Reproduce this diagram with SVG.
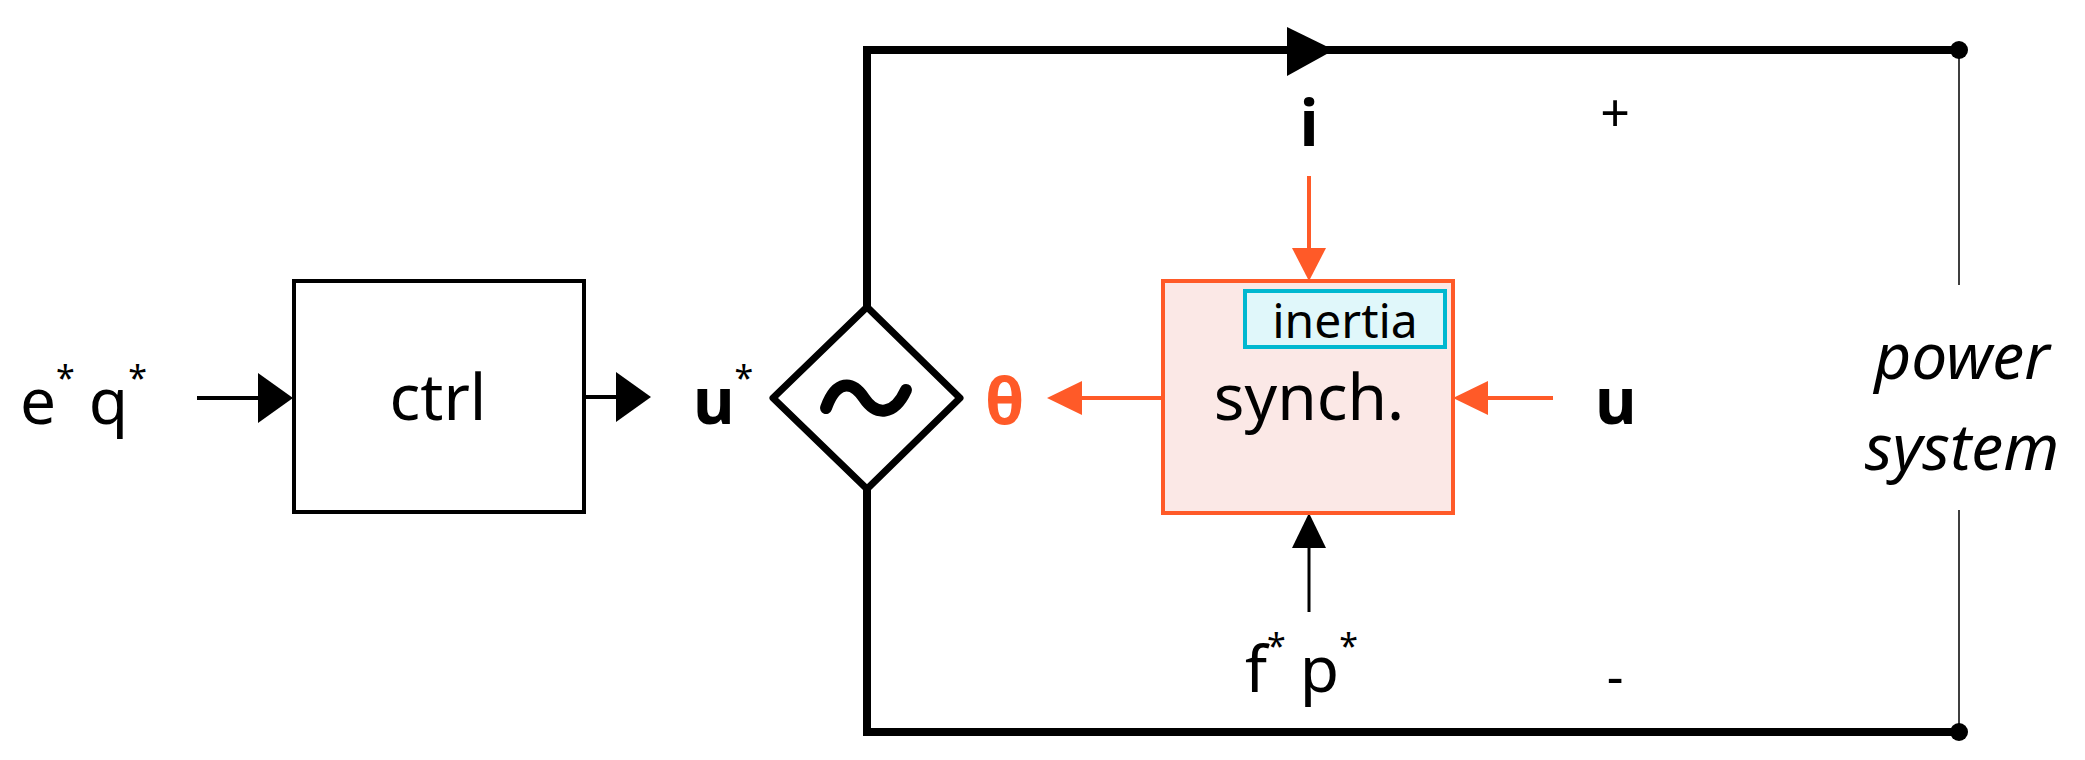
<svg xmlns="http://www.w3.org/2000/svg" width="2085" height="760" viewBox="0 0 2085 760">
<defs>
<marker id="ab" viewBox="0 0 10 10" refX="10" refY="5" markerWidth="10" markerHeight="10" markerUnits="userSpaceOnUse" orient="auto"><path d="M0,0L10,5L0,10z" fill="#000"/></marker>
<style>
text{font-family:"Noto Sans","DejaVu Sans",sans-serif;font-size:64px;fill:#000}
.b{font-weight:bold}
.o{fill:#ff5a28}
.i{font-style:italic}
.sup{font-size:34px}
</style>
</defs>
<g id="connectors" fill="none">
<path d="M867,307V50H1959" stroke="#000" stroke-width="8"/>
<path d="M867,489V732H1959" stroke="#000" stroke-width="8"/>
<path d="M1287,27L1334,50L1287,76z" fill="#000"/>
<circle cx="1959" cy="50" r="9" fill="#000"/>
<circle cx="1959" cy="732" r="9" fill="#000"/>
<path d="M1959,50V285M1959,510V732" stroke="#000" stroke-width="1.5"/>
<path d="M197,398H260" stroke="#000" stroke-width="4"/>
<path d="M258,373L293,398L258,423z" fill="#000"/>
<path d="M585,397H616" stroke="#000" stroke-width="4"/>
<path d="M616,372L651,397L616,422z" fill="#000"/>
<path d="M1309,176V250" stroke="#ff5a28" stroke-width="4"/>
<path d="M1292,248L1309,281L1326,248z" fill="#ff5a28"/>
<path d="M1163,398H1080" stroke="#ff5a28" stroke-width="4"/>
<path d="M1082,381L1047,398L1082,415z" fill="#ff5a28"/>
<path d="M1553,398H1485" stroke="#ff5a28" stroke-width="4"/>
<path d="M1488,381L1453,398L1488,415z" fill="#ff5a28"/>
<path d="M1309,612V545" stroke="#000" stroke-width="3"/>
<path d="M1292,548L1309,513L1326,548z" fill="#000"/>
</g>
<g id="inputs"><text x="20" y="424">e<tspan class="sup" dy="-34">*</tspan><tspan dy="34" dx="14">q</tspan><tspan class="sup" dy="-34">*</tspan></text></g>
<g id="ctrl"><rect x="294" y="281" width="290" height="231" fill="#fff" stroke="#000" stroke-width="4"/><text x="438" y="420" text-anchor="middle">ctrl</text></g>
<g id="ustar"><text x="693" y="424" class="b">u<tspan class="sup" dy="-34" style="font-weight:normal">*</tspan></text></g>
<g id="source"><path d="M867,307L960,398L867,489L773,398z" fill="#fff" stroke="#000" stroke-width="7" stroke-linejoin="round"/><path d="M826,408C836,380 852,380 864,398S894,416 906,390" fill="none" stroke="#000" stroke-width="12" stroke-linecap="round"/></g>
<g id="theta"><text x="985" y="424" class="b o">θ</text></g>
<g id="i"><text x="1309" y="146" class="b" text-anchor="middle">i</text></g>
<g id="plus"><text x="1615" y="132" text-anchor="middle" style="font-size:52px">+</text></g>
<g id="minus"><text x="1615" y="695" text-anchor="middle" style="font-size:52px">-</text></g>
<g id="synch"><rect x="1163" y="281" width="290" height="232" fill="#fbe8e6" stroke="#ff5a28" stroke-width="4"/><text x="1309" y="420" text-anchor="middle">synch.</text></g>
<g id="inertia"><rect x="1245" y="291" width="200" height="56" fill="#e0f7fa" stroke="#00b8d0" stroke-width="4"/><text x="1345" y="338" text-anchor="middle" style="font-size:48px">inertia</text></g>
<g id="u"><text x="1595" y="424" class="b">u</text></g>
<g id="fp"><text x="1245" y="692">f<tspan class="sup" dy="-34">*</tspan><tspan dy="34" dx="14">p</tspan><tspan class="sup" dy="-34">*</tspan></text></g>
<g id="power"><text x="1962" y="379" class="i" text-anchor="middle">power</text><text x="1962" y="470" class="i" text-anchor="middle">system</text></g>
</svg>
